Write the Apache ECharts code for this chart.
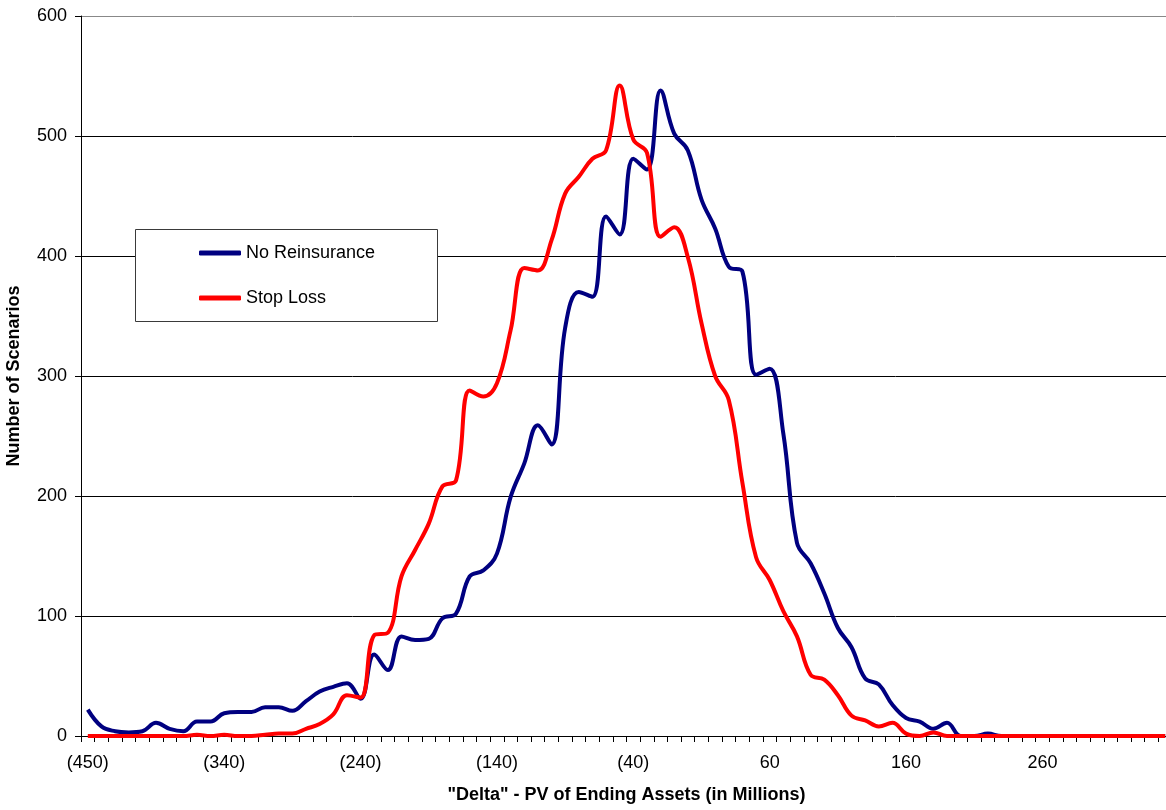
<!DOCTYPE html>
<html>
<head>
<meta charset="utf-8">
<script src="https://cdn.jsdelivr.net/npm/echarts@6/dist/echarts.min.js"></script>
<style>
html,body{margin:0;padding:0;background:#fff;}
#chart{width:1166px;height:810px;}
</style>
</head>
<body>
<div id="chart"></div>
<script>
// Category values (bin labels, in millions); first bin is (450), then (430)...(340)...
const categoryValues = [-450, -430, -420, -410, -400, -390, -380, -370, -360, -350,
  -340, -330, -320, -310, -300, -290, -280, -270, -260, -250,
  -240, -230, -220, -210, -200, -190, -180, -170, -160, -150,
  -140, -130, -120, -110, -100, -90, -80, -70, -60, -50,
  -40, -30, -20, -10, 0, 10, 20, 30, 40, 50,
  60, 70, 80, 90, 100, 110, 120, 130, 140, 150,
  160, 170, 180, 190, 200, 210, 220, 230, 240, 250,
  260, 270, 280, 290, 300, 310, 320, 330, 340, 350];

const noReinsurance = [22, 8, 4, 3, 4, 11, 6, 4, 12, 12,
  19, 20, 20, 24, 24, 21, 29, 37, 41, 44,
  31, 68, 55, 83, 80, 81, 98, 102, 133, 138,
  152, 199, 227, 259, 243, 340, 370, 366, 433, 418,
  481, 472, 538, 502, 488, 447, 423, 391, 387, 301,
  306, 252, 161, 144, 119, 90, 74, 48, 43, 26,
  15, 12, 6, 11, 0, 0, 2, 0, 0, 0,
  0, 0, 0, 0, 0, 0, 0, 0, 0, 0];

const stopLoss = [0, 0, 0, 0, 0, 0, 0, 0, 1, 0,
  1, 0, 0, 1, 2, 2, 6, 10, 18, 34,
  32, 84, 86, 133, 155, 177, 208, 213, 288, 283,
  294, 338, 390, 388, 413, 452, 466, 481, 488, 542,
  497, 486, 416, 424, 399, 344, 300, 280, 211, 149,
  130, 104, 83, 51, 47, 34, 17, 13, 8, 11,
  2, 0, 3, 0, 0, 0, 0, 0, 0, 0,
  0, 0, 0, 0, 0, 0, 0, 0, 0, 0];

const yTicks = [0, 100, 200, 300, 400, 500, 600];

function fmt(v) { return v < 0 ? '(' + (-v) + ')' : String(v); }
const categories = categoryValues.map(fmt);

const FONT = '"Liberation Sans", Arial, sans-serif';
const chart = echarts.init(document.getElementById('chart'));
chart.setOption({
  animation: false,
  backgroundColor: '#ffffff',
  grid: { left: 81, top: 16, width: 1091, height: 720, containLabel: false, outerBoundsMode: 'none' },
  graphic: [{
    type: 'rect', z: 5,
    shape: { x: 135.5, y: 229.5, width: 302, height: 92 },
    style: { fill: '#ffffff', stroke: '#3a3a3a', lineWidth: 1 }
  }],
  legend: {
    z: 10,
    orient: 'vertical',
    left: 199, top: 244,
    padding: 0,
    itemWidth: 42, itemHeight: 5,
    itemGap: 27,
    icon: 'roundRect',
    textStyle: { fontFamily: FONT, fontSize: 18, color: '#000' },
    data: ['No Reinsurance', 'Stop Loss']
  },
  xAxis: {
    type: 'category',
    data: categories,
    boundaryGap: true,
    name: '"Delta" - PV of Ending Assets (in Millions)',
    nameLocation: 'middle',
    nameGap: 50,
    nameTextStyle: { fontFamily: FONT, fontSize: 18, fontWeight: 'bold', color: '#000' },
    axisLine: { lineStyle: { color: '#000', width: 1 } },
    axisTick: { show: true, interval: 0, length: 6, lineStyle: { color: '#000' } },
    axisLabel: { interval: 9, margin: 18, fontFamily: FONT, fontSize: 18, color: '#000' },
    splitLine: { show: false }
  },
  yAxis: {
    type: 'value',
    min: yTicks[0], max: yTicks[yTicks.length - 1], interval: 100,
    name: 'Number of Scenarios',
    nameLocation: 'middle',
    nameGap: 58,
    nameTextStyle: { fontFamily: FONT, fontSize: 18, fontWeight: 'bold', color: '#000' },
    axisLine: { show: true, lineStyle: { color: '#000', width: 1 } },
    axisTick: { show: true, length: 6, lineStyle: { color: '#000' } },
    axisLabel: { margin: 14, fontFamily: FONT, fontSize: 18, color: '#000' },
    splitLine: { show: true, lineStyle: { color: ['#000', '#000', '#000', '#000', '#000', '#000', '#888'], width: 1 } }
  },
  series: [
    {
      name: 'No Reinsurance', type: 'line', data: noReinsurance,
      smooth: 0.4, showSymbol: false, symbol: 'none',
      lineStyle: { color: '#000080', width: 4 }, itemStyle: { color: '#000080' }, z: 3
    },
    {
      name: 'Stop Loss', type: 'line', data: stopLoss,
      smooth: 0.4, showSymbol: false, symbol: 'none',
      lineStyle: { color: '#ff0000', width: 4 }, itemStyle: { color: '#ff0000' }, z: 4
    }
  ]
});
</script>
</body>
</html>
